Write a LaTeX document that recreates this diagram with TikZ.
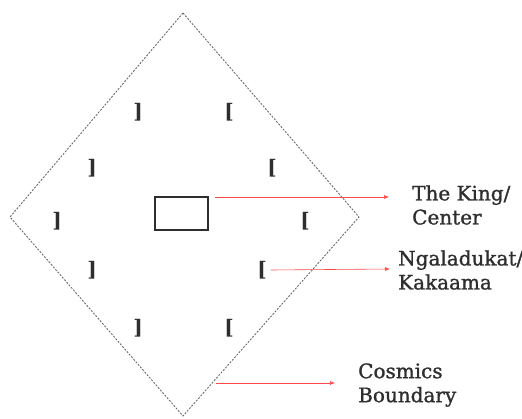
\documentclass[tikz,border=0pt]{standalone}
\usepackage{fontspec}
\setmainfont{DejaVu Serif}
\newfontfamily\labelfont[FakeBold=1.2]{DejaVu Serif}
\usetikzlibrary{arrows.meta}
\definecolor{ink}{HTML}{2E2E2E}
\definecolor{bound}{HTML}{6A6A6A}
\definecolor{pointer}{HTML}{FF4A4A}
\tikzset{
  bracket/.style={inner sep=0pt, text=ink, font=\fontsize{20}{20}\selectfont\bfseries},
  label/.style={inner sep=0pt, anchor=west, align=left, text=ink, font=\labelfont\fontsize{20}{24}\selectfont},
  pointer/.style={draw=pointer, line width=0.6pt, -{Latex[length=5pt,width=4pt]}},
  boundary/.style={draw=bound, line width=0.9pt, dash pattern=on 2pt off 1.4pt},
}
\begin{document}
\begin{tikzpicture}[x=1pt,y=-1pt]
\useasboundingbox (0,0) rectangle (522,419);
% cosmic boundary
\coordinate (top) at (183,13);
\coordinate (left) at (10,217);
\coordinate (right) at (359,217);
\coordinate (bottom) at (183,416);
\draw[boundary] (top) -- (right) -- (bottom) -- (left) -- cycle;
% king
\node[draw=ink, line width=1.6pt, minimum width=53pt, minimum height=33pt, inner sep=0pt] (king) at (181.5,213.5) {};
% brackets
\node[bracket] (l1) at (138,112) {]};
\node[bracket] (l2) at (92,168) {]};
\node[bracket] (l3) at (57,221) {]};
\node[bracket] (l4) at (92,270) {]};
\node[bracket] (l5) at (138,328) {]};
\node[bracket] (r1) at (229,112) {[};
\node[bracket] (r2) at (272,168) {[};
\node[bracket] (r3) at (305,221) {[};
\node[bracket] (r4) at (262,270) {[};
\node[bracket] (r5) at (229,328) {[};
% labels
\node[label] (tking) at (412,205) {The King/\\Center};
\node[label] (tngal) at (398,270) {Ngaladukat/\\Kakaama};
\node[label] (tcos) at (358,385) {Cosmics\\Boundary};
% pointers
\coordinate (kstart) at (215,197);
\coordinate (kend) at (389,197);
\coordinate (nend) at (390,269);
\coordinate (cstart) at (216,383);
\coordinate (cend) at (335,383);
\draw[pointer] (kstart) -- (kend);
\draw[pointer] (r4.east) ++(4pt,0) -- (nend);
\draw[pointer] (cstart) -- (cend);
\end{tikzpicture}
\end{document}
